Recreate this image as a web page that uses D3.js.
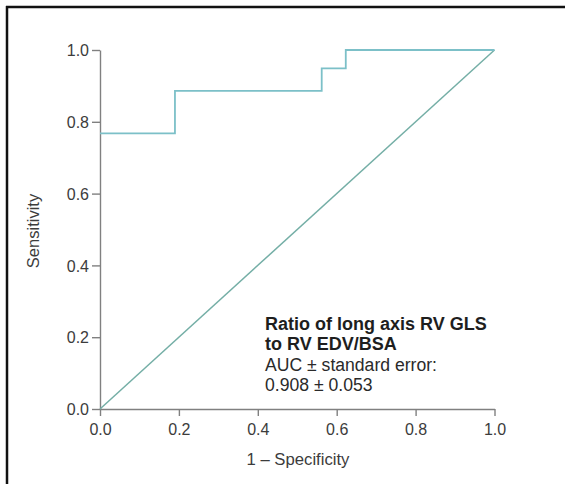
<!DOCTYPE html>
<html>
<head>
<meta charset="utf-8">
<script src="https://cdn.jsdelivr.net/npm/d3@7"></script>
<style>
  html, body { margin: 0; padding: 0; background: #fff; }
  svg { display: block; }
  text { font-family: "Liberation Sans", Arial, sans-serif; }
</style>
</head>
<body>
<script>
// ROC curve points (1 - specificity, sensitivity)
const rocFpr = [0.0, 0.19, 0.19, 0.562, 0.562, 0.623, 0.623, 1.0];
const rocTpr = [0.768, 0.768, 0.886, 0.886, 0.949, 0.949, 1.0, 1.0];
// reference diagonal
const diagFpr = [0, 1];
const diagTpr = [0, 1];
const xTicks = [0, 0.2, 0.4, 0.6, 0.8, 1.0];
const yTicks = [0, 0.2, 0.4, 0.6, 0.8, 1.0];
const annotationBold = ["Ratio of long axis RV GLS", "to RV EDV/BSA"];
const annotationPlain = ["AUC \u00b1 standard error:", "0.908 \u00b1 0.053"];
const xTitle = "1 \u2013 Specificity";
const yTitle = "Sensitivity";

const W = 565, H = 484;
const svg = d3.select("body").append("svg").attr("width", W).attr("height", H);

// frame
svg.append("line").attr("x1", 6).attr("x2", W).attr("y1", 7).attr("y2", 7)
  .attr("stroke", "#111").attr("stroke-width", 2.5);
svg.append("line").attr("x1", 7).attr("x2", 7).attr("y1", 6).attr("y2", H)
  .attr("stroke", "#111").attr("stroke-width", 2.5);

const x = d3.scaleLinear().domain([0, 1]).range([100, 494.5]);
const y = d3.scaleLinear().domain([0, 1]).range([409, 50]);

const axisColor = "#808080";
const labelColor = "#3c3c3c";

const gx = svg.append("g").attr("transform", `translate(0,${y(0)})`)
  .call(d3.axisBottom(x).tickValues(xTicks).tickFormat(d3.format(".1f")).tickSize(7).tickSizeOuter(0));
const gy = svg.append("g").attr("transform", `translate(${x(0)},0)`)
  .call(d3.axisLeft(y).tickValues(yTicks).tickFormat(d3.format(".1f")).tickSize(8).tickSizeOuter(0));

[gx, gy].forEach(g => {
  g.attr("font-size", null).attr("font-family", null);
  g.select(".domain").attr("stroke", axisColor).attr("stroke-width", 1.4);
  g.selectAll(".tick line").attr("stroke", axisColor).attr("stroke-width", 1.4);
  g.selectAll(".tick text").attr("fill", labelColor).style("font-size", "16px")
    .style("font-family", "'Liberation Sans', Arial, sans-serif");
});
gx.selectAll(".tick text").attr("dy", null).attr("y", 26);
gy.selectAll(".tick text").attr("x", -11).attr("dy", "0.36em");

// diagonal
const line = d3.line().x(d => x(d[0])).y(d => y(d[1]));
svg.append("path").datum(diagFpr.map((v, i) => [v, diagTpr[i]]))
  .attr("d", line).attr("fill", "none").attr("stroke", "#74aea6").attr("stroke-width", 1.5);

// ROC
svg.append("path").datum(rocFpr.map((v, i) => [v, rocTpr[i]]))
  .attr("d", line).attr("fill", "none").attr("stroke", "#7cc0c8").attr("stroke-width", 1.8);

// annotation
const ann = svg.append("g");
annotationBold.forEach((t, i) => {
  ann.append("text").attr("x", 265).attr("y", 330 + i * 20.3)
    .style("font-size", "18px").attr("font-weight", "bold").attr("fill", "#1e1e1e").text(t);
});
annotationPlain.forEach((t, i) => {
  ann.append("text").attr("x", 265).attr("y", 370.8 + i * 20.3)
    .style("font-size", "17.6px").attr("fill", "#2a2a2a").text(t);
});

// axis titles
svg.append("text").attr("x", 298).attr("y", 465).attr("text-anchor", "middle")
  .style("font-size", "16.7px").attr("fill", labelColor).text(xTitle);
svg.append("text").attr("transform", `translate(39,231) rotate(-90)`)
  .attr("text-anchor", "middle").style("font-size", "16.5px").attr("fill", labelColor).text(yTitle);
</script>
</body>
</html>
